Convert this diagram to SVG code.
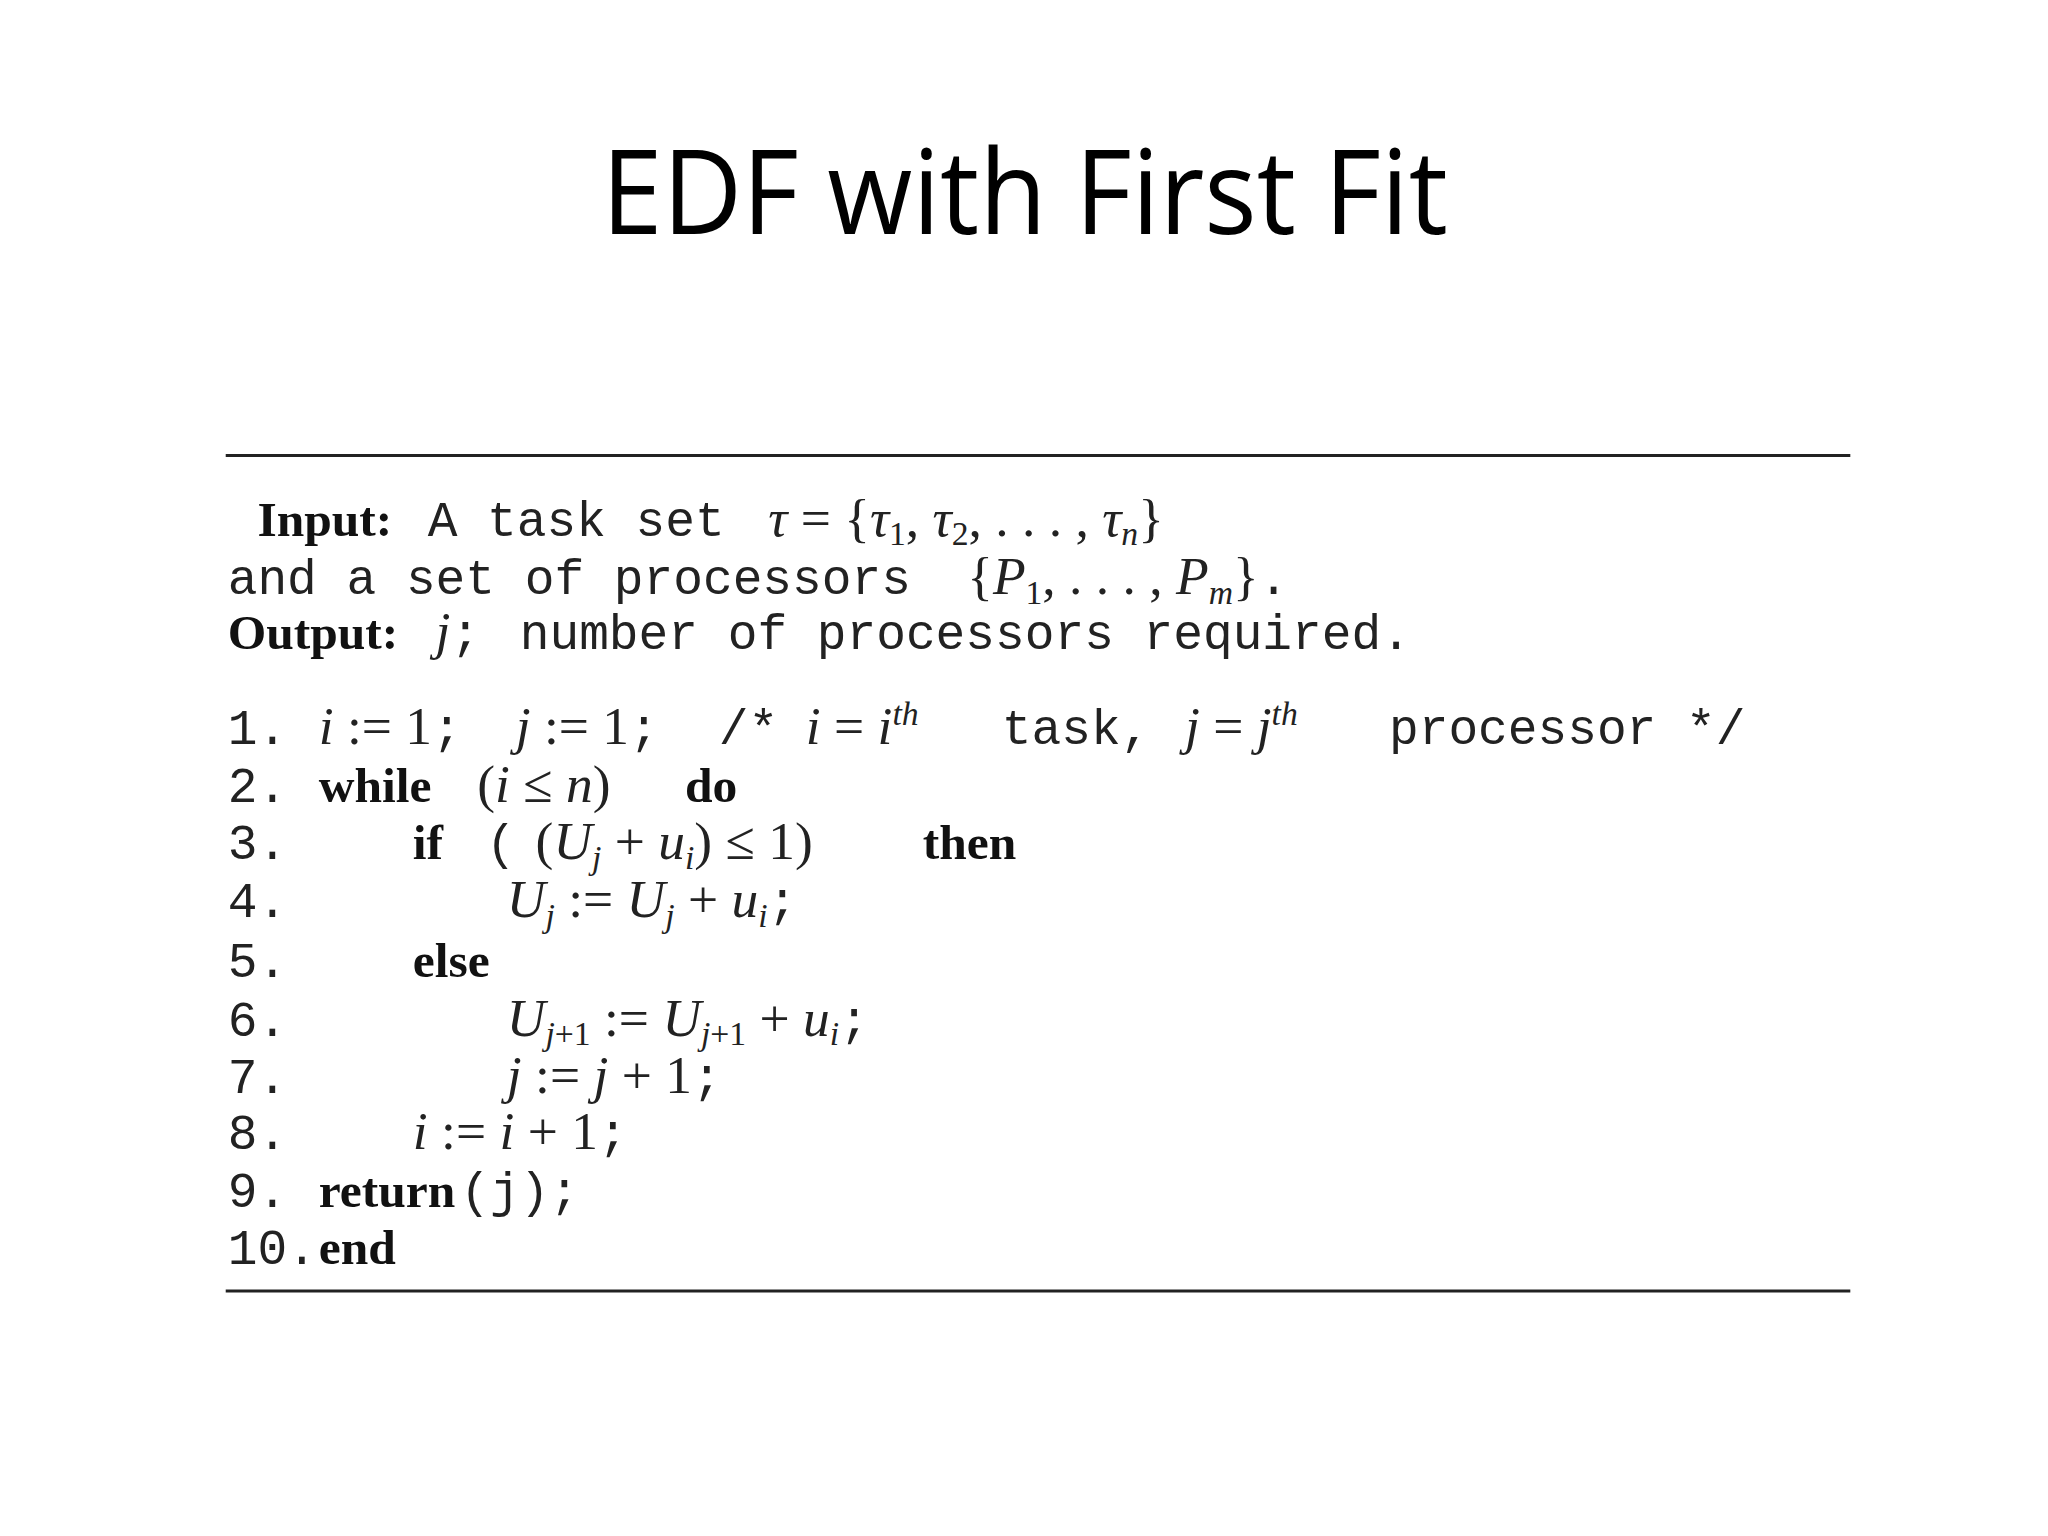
<svg xmlns="http://www.w3.org/2000/svg" width="2048" height="1536" viewBox="0 0 2048 1536">
<style>
.t{font-family:"Open Sans","Liberation Sans",sans-serif;font-size:118px;fill:#000}
.m{font-family:"Liberation Mono",monospace;font-size:50px;fill:#222}
.b{font-family:"Liberation Serif",serif;font-weight:bold;font-size:50px;fill:#111}
.i{font-family:"Liberation Serif",serif;font-style:italic;font-size:54px;fill:#222}
.r{font-family:"Liberation Serif",serif;font-size:54px;fill:#222}
.s{font-size:34px}
line{stroke:#222;stroke-width:3}
</style>
<rect width="2048" height="1536" fill="#fff"/>
<g transform="scale(0.99)">
<text class="t" x="1035" y="236" text-anchor="middle" textLength="855" lengthAdjust="spacingAndGlyphs">EDF with First Fit</text>
<line x1="228" y1="460" x2="1869" y2="460"/>
<line x1="228" y1="1304" x2="1869" y2="1304"/>
<g id="header">
<text x="260" y="541"><tspan class="b">Input:</tspan><tspan class="m" x="432">A task set</tspan><tspan class="i" x="776">τ</tspan><tspan class="r"> = {</tspan><tspan class="i">τ</tspan><tspan class="r s" dy="10">1</tspan><tspan class="r" dy="-10">, </tspan><tspan class="i">τ</tspan><tspan class="r s" dy="10">2</tspan><tspan class="r" dy="-10">, . . . , </tspan><tspan class="i">τ</tspan><tspan class="i s" dy="10">n</tspan><tspan class="r" dy="-10">}</tspan></text>
<text x="230" y="600"><tspan class="m">and a set of processors</tspan><tspan class="r" x="977">{</tspan><tspan class="i">P</tspan><tspan class="r s" dy="10">1</tspan><tspan class="r" dy="-10">, . . . , </tspan><tspan class="i">P</tspan><tspan class="i s" dy="10">m</tspan><tspan class="r" dy="-10">}</tspan><tspan class="m">.</tspan></text>
<text x="230" y="656"><tspan class="b">Output:</tspan><tspan class="i" x="440">j</tspan><tspan class="m">;</tspan><tspan class="m" x="525">number of processors required.</tspan></text>
</g>
<g id="algorithm">
<text class="m" x="230" y="752">1.</text>
<text x="322" y="752"><tspan class="i">i</tspan><tspan class="r"> := 1</tspan><tspan class="m">;</tspan><tspan class="i" x="521">j</tspan><tspan class="r"> := 1</tspan><tspan class="m">;</tspan><tspan class="m" x="726">/*</tspan><tspan class="i" x="814">i</tspan><tspan class="r"> = </tspan><tspan class="i">i</tspan><tspan class="i s" dy="-20">th</tspan><tspan class="m" x="1012" dy="20">task,</tspan><tspan class="i" x="1197">j</tspan><tspan class="r"> = </tspan><tspan class="i">j</tspan><tspan class="i s" dy="-20">th</tspan><tspan class="m" x="1403" dy="20">processor */</tspan></text>
<text class="m" x="230" y="810">2.</text>
<text x="322" y="810"><tspan class="b">while</tspan><tspan class="r" x="482">(</tspan><tspan class="i">i</tspan><tspan class="r"> ≤ </tspan><tspan class="i">n</tspan><tspan class="r">)</tspan><tspan class="b" x="692">do</tspan></text>
<text class="m" x="230" y="868">3.</text>
<text x="417" y="868"><tspan class="b">if</tspan><tspan class="m" x="491">(</tspan><tspan class="r" x="541">(</tspan><tspan class="i">U</tspan><tspan class="i s" dy="10">j</tspan><tspan class="r" dy="-10"> + </tspan><tspan class="i">u</tspan><tspan class="i s" dy="10">i</tspan><tspan class="r" dy="-10">) ≤ 1)</tspan><tspan class="b" x="932">then</tspan></text>
<text class="m" x="230" y="926">4.</text>
<text x="512" y="926"><tspan class="i">U</tspan><tspan class="i s" dy="10">j</tspan><tspan class="r" dy="-10"> := </tspan><tspan class="i">U</tspan><tspan class="i s" dy="10">j</tspan><tspan class="r" dy="-10"> + </tspan><tspan class="i">u</tspan><tspan class="i s" dy="10">i</tspan><tspan class="m" dy="-10">;</tspan></text>
<text class="m" x="230" y="987">5.</text>
<text class="b" x="417" y="987">else</text>
<text class="m" x="230" y="1046">6.</text>
<text x="512" y="1046"><tspan class="i">U</tspan><tspan class="i s" dy="10">j</tspan><tspan class="r s">+1</tspan><tspan class="r" dy="-10"> := </tspan><tspan class="i">U</tspan><tspan class="i s" dy="10">j</tspan><tspan class="r s">+1</tspan><tspan class="r" dy="-10"> + </tspan><tspan class="i">u</tspan><tspan class="i s" dy="10">i</tspan><tspan class="m" dy="-10">;</tspan></text>
<text class="m" x="230" y="1104">7.</text>
<text x="512" y="1104"><tspan class="i">j</tspan><tspan class="r"> := </tspan><tspan class="i">j</tspan><tspan class="r"> + 1</tspan><tspan class="m">;</tspan></text>
<text class="m" x="230" y="1161">8.</text>
<text x="417" y="1161"><tspan class="i">i</tspan><tspan class="r"> := </tspan><tspan class="i">i</tspan><tspan class="r"> + 1</tspan><tspan class="m">;</tspan></text>
<text class="m" x="230" y="1219">9.</text>
<text x="322" y="1219"><tspan class="b">return</tspan><tspan class="m" x="465">(j);</tspan></text>
<text x="230" y="1277"><tspan class="m">10.</tspan><tspan class="b" x="322">end</tspan></text>
</g>
</g>
</svg>
